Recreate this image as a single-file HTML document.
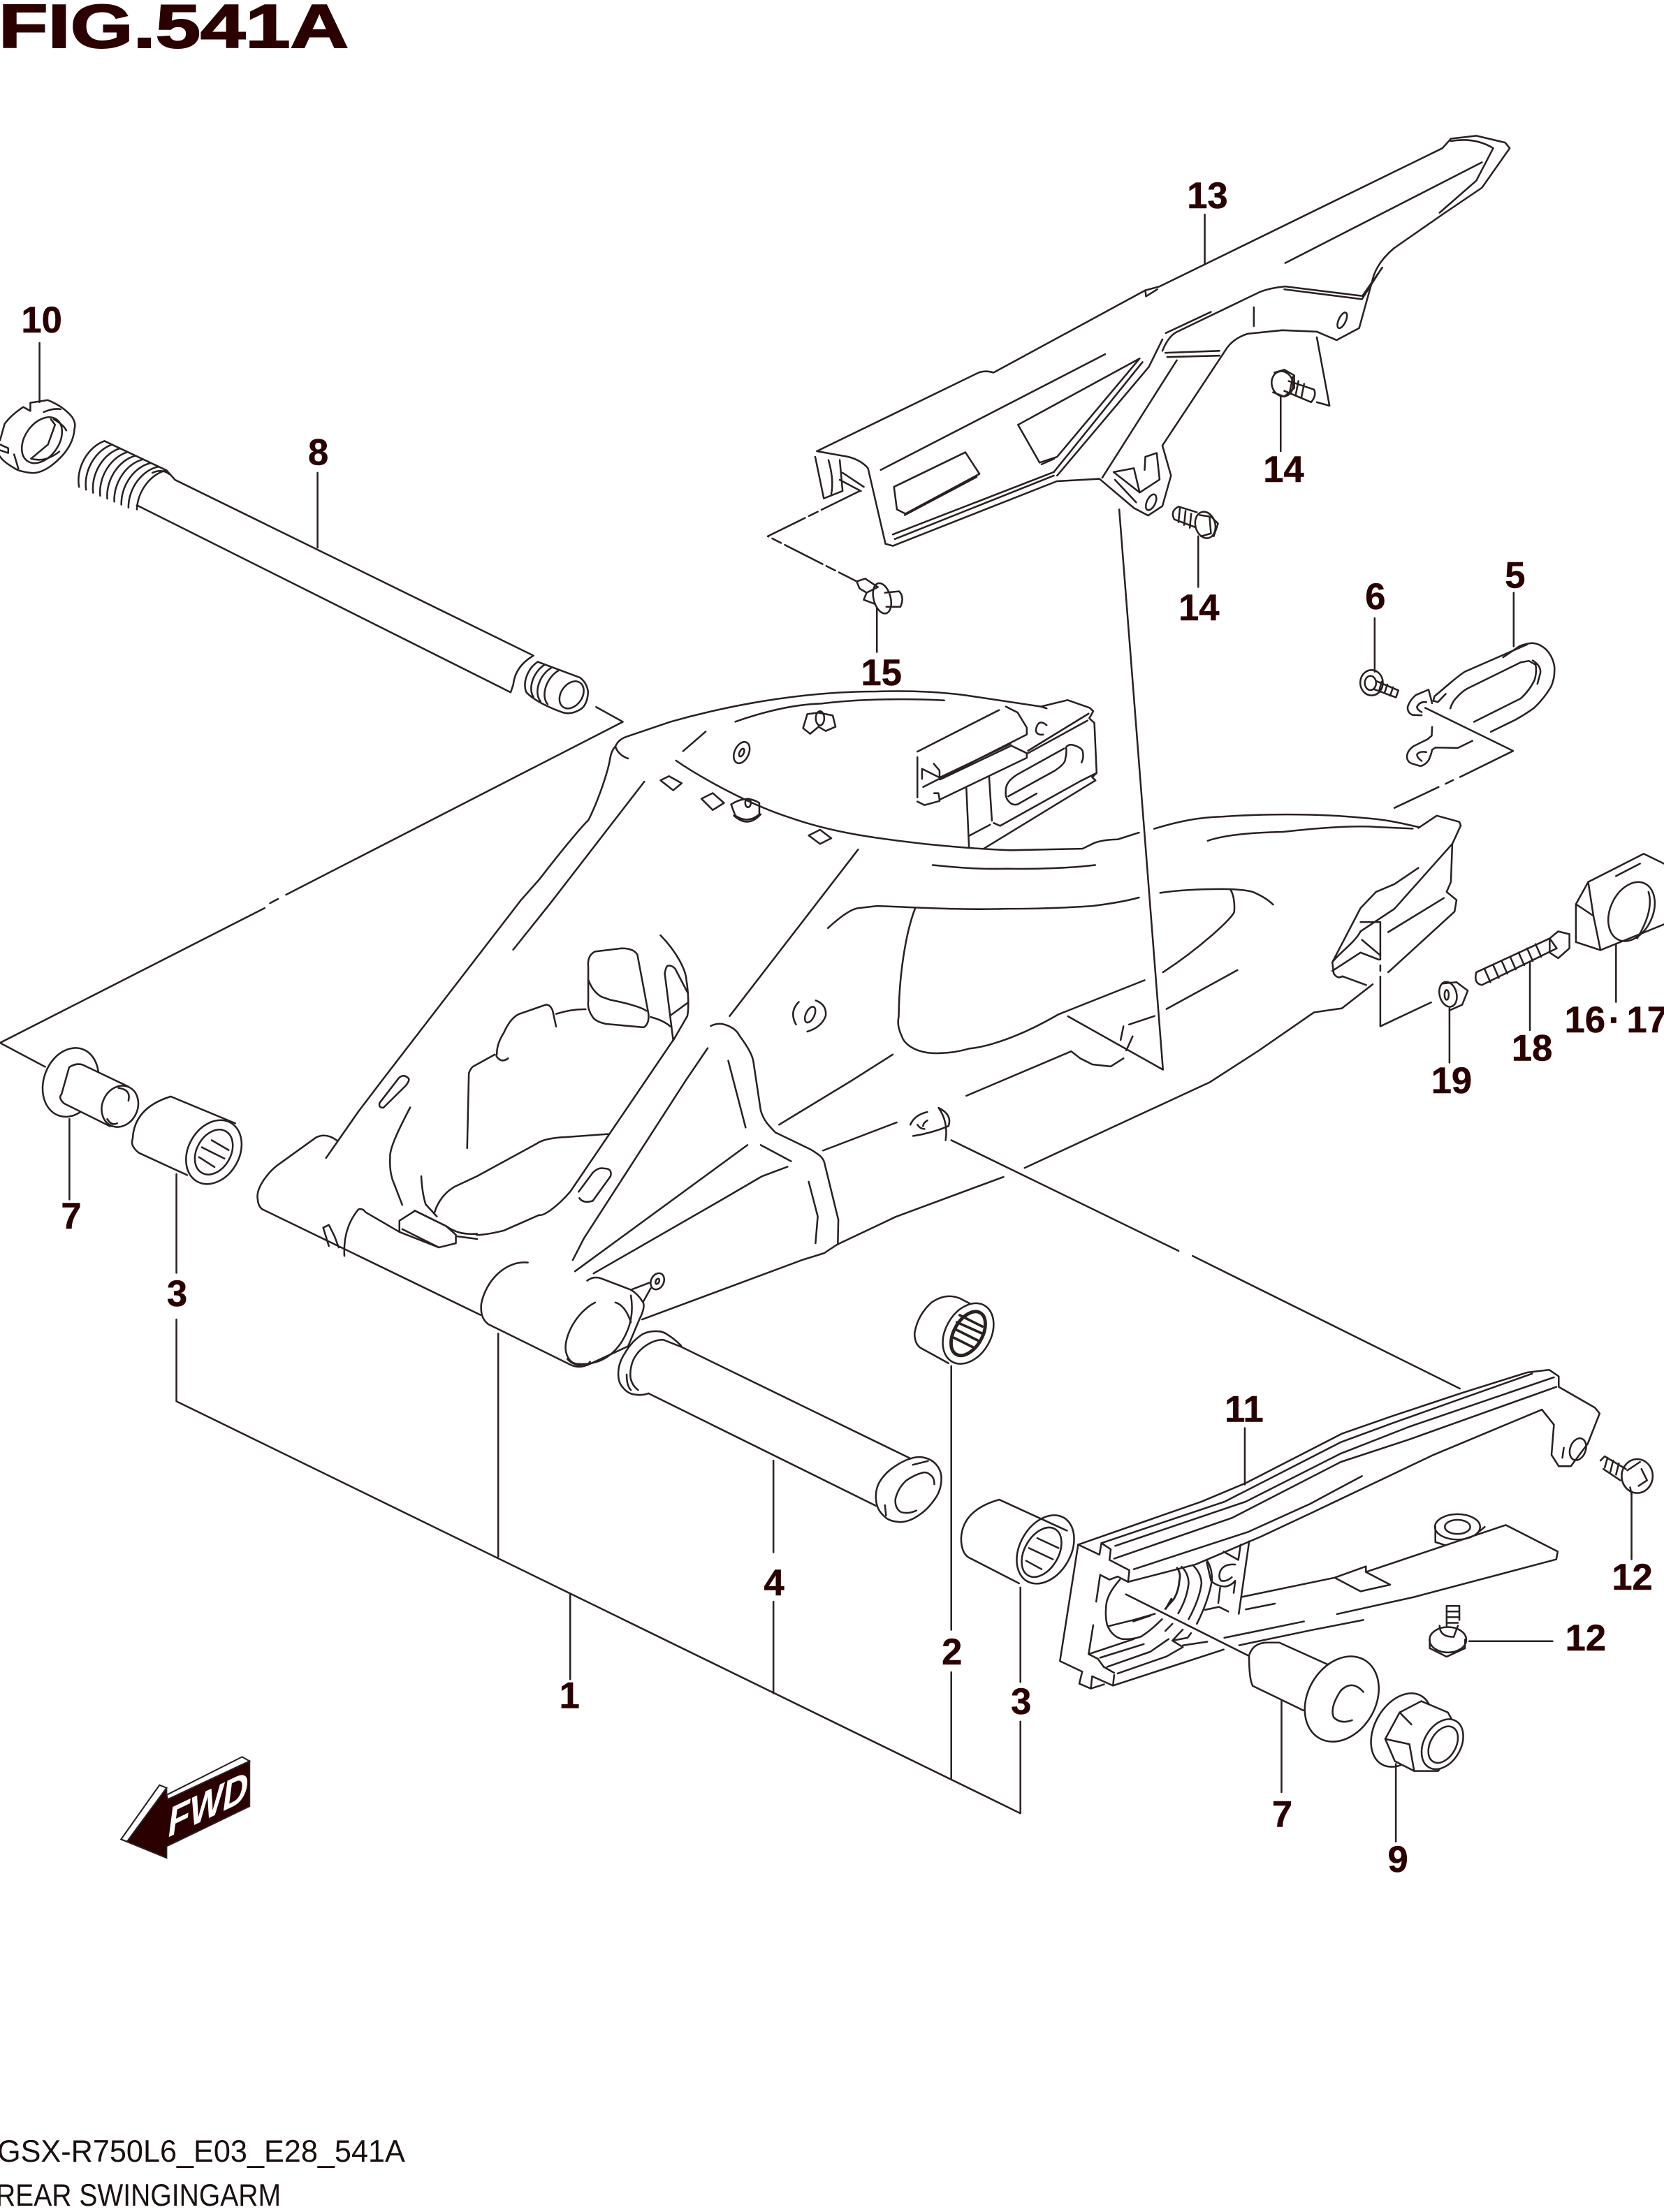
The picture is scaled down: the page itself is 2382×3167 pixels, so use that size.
<!DOCTYPE html>
<html><head><meta charset="utf-8"><title>FIG.541A</title>
<style>html,body{margin:0;padding:0;background:#fff;width:2382px;height:3167px;overflow:hidden}svg{display:block}
.l{font:bold 26px "Liberation Sans",sans-serif;fill:#2b0000;stroke:#2b0000;stroke-width:.25;text-anchor:middle}</style></head><body>
<svg width="2382" height="3167" viewBox="0 0 1179 1567.5" xmlns="http://www.w3.org/2000/svg">
<text x="-1" y="33.7" textLength="248" lengthAdjust="spacingAndGlyphs" style="font:bold 43.5px 'Liberation Sans',sans-serif;fill:#2b0000;stroke:#2b0000;stroke-width:1">FIG.541A</text>
<g fill="none" stroke="#2a2020" stroke-width="1.25" stroke-linecap="round" stroke-linejoin="round">
<!-- swingarm left pivot -->
<path d="M238.5 808C233 804 228 804 224 806L199 824C190 830 181 842 182.6 850Q183 855 186 857L340.4 931.8"/>
<path d="M374 894.7C358 893 344 908 341 924Q340 934 346 938.4L404 967Q410 970 417 967L445 954L453 935Q458 925 455 922Q452 917 447 914L426 906Q421 904 416 907.5"/>
<path d="M421.6 923C408 930 399 948 401 958Q403 966 409 966.5Q430 968 441 950C447 940 449 930 447 918"/>
<path d="M436 923Q443 925 447 937"/>
<path d="M402 963Q405 967 413 968Q417 967 418 965"/>
<path d="M231 820.6L254 787.6L272.7 763L369 638L382.6 622.6C400 600 412 586 417 581C425 565 431 545 432 539Q433 532 436 529"/>
<path d="M436 529Q438 535 445 537.5M436 529Q438 524 444 522L475 511.5C505 503 560 490 621.5 490C650 489 670 491 683 492.5L737.5 500.7"/>
<path d="M521 511.4C545 503 565 499 582 498.6C610 495 645 495 669 496.3"/>
<path d="M500 518.4L484 532.3"/>
<path d="M456.5 553.9L390 640L363.6 673"/>
<!-- bracket -->
<path d="M737.5 500.7L741.6 502M737.5 500.7L756.4 496.1L772.1 501.6L774.6 504L771.8 509L775.4 512.3L777 547.8L773.8 550.7L776.2 553L697 601.4"/>
<path d="M650 532.6L707.8 503.2M712.7 500.7L721 504.9L727.5 515.6V520.5L654.1 557.7"/>
<path d="M665.7 551L716 527.1M666 552.4L716.5 528.4L727.5 533.7V537L665.7 566.7L664.9 562.1L661.9 562.1"/>
<path d="M650 536.5V565.1M650 568L655 570.5L665.7 567.6M653.3 551.9V544.8L665.7 551M661.6 541.2L665.7 546.1V551"/>
<path d="M728.4 532L771.3 505.7M728.4 533.7L770.5 510.6"/>
<path d="M741.6 513.9Q737 510 735 513.9Q733 518 735 519.7Q737 521 739.1 520.5"/>
<path d="M754 530.4L722.6 547.8Q713 553 712.7 559.3Q712 565 714.4 567.5Q717 571 721 570L734.5 562.3"/>
<path d="M714.4 564.3L747.4 546.1Q755 541 754.8 537.8Q756 533 755.3 529.6Q757 527 760.6 528Q767 530 767.2 532.9Q768 537 766.3 540.3"/>
<path d="M700.8 550.2L702.8 581.6M684.7 558.5L686.6 600.6M686.6 592.3L701.5 584.4M704.1 583.2L708.6 585.2L765.5 553.5L777 547.8"/>
<!-- arc lower -->
<path d="M479 539C495 550 530 570 560.4 579.6C590 590 620 594 655 598C675 600 700 602 716 602.5L767 601.4L775.4 597.3C782 595 790 594.8 792 594.8L807 590"/>
<path d="M817.8 587.3C835 582 850 579 866 578.7C890 577 930 576 966 579.6C985 581 995 584 1005 586"/>
<path d="M855.7 595.8C870 591 890 590 909 589.5C940 586 960 585 975 586L1001 587.2"/>
<path d="M660.8 613C680 615 695 616 713 615.6C735 616 760 615 776 613"/>
<path d="M1005 586.7L1018 578L1034 582.4L1035 585L1029 598L1028 625L1025 632L1032 637.8L1030.6 646L983.6 689"/>
<path d="M1029 598L988 644L964 660C960 668 948 676 944 681.9L945 690Q948 694 951 691.8L968 698M1005 615L988 626.5L975 632L964 643.5L944 681.9M983.6 660.5L1023 636.4M944 688L964 675L977 680M965 666L978 677"/>
<!-- body lower right -->
<path d="M972.6 697.5L950.8 714.5L931 717.4L892 744.4L857 767L726 827.6"/>
<path d="M711 834L634.6 862.3L593 882L584 888L568 893L455 935"/>
<!-- gusset -->
<path d="M503.6 727Q508 725 511.6 725.6C518 727 522 730 524 734C530 742 533 748 533.7 751.7L539 787C541 794 545 798 549.4 802.5L574.7 814.7C580 818 583 820 584 823.5L594 864.4L593.6 882"/>
<path d="M516 751.7L528.3 799M573 837.4L579.4 862L577.8 881M539 811.4L560.5 822.9M529.6 811.4L407.4 900.9M558 826.8L540 833.5L510 851L420.6 902.4"/>
<path d="M501.4 742.8L486.3 765L413.7 877.6L405.8 893"/>
<path d="M476.8 737.3L458 765L404 844.5C395 855 385 862 382 861L357 872C345 875 335 876 338 874.3C328 875 322 873 316 868.8L293.7 857.8"/>
<path d="M308 859C310 852 315 845 322 841L338 833.5L380.5 810.3C385 807 395 806 401 805.8L431 803.6"/>
<path d="M290.6 784.8C280 805 276 815 276.4 820C276 828 277 832 278 835.7L285 853.8M298.5 833.5Q299 845 301.6 853.4L309.5 862"/>
<path d="M331 813.6L332.2 760.5Q333 758 334.8 756L350.5 747.3"/>
<path d="M360 750Q356 753 353 750Q351 748 352 747.3C352 740 355 735 357 731.8C360 725 364 720 368 718.5L387 711.9Q390 712 391.6 716.3L394 727.4M394 718.5Q405 715 415 715.2"/>
<path d="M416.8 685Q416 677 421.6 674.3L440.5 672Q449 672 451.6 676.5L459.5 718.5Q460 726 456 728L429.5 725.6Q422 724 420 720.8Q416 715 416.8 709.7Z"/>
<path d="M416.8 694.2Q420 703 426.3 706.4L432.6 708.6C445 711 455 714 458 716.3M461 720.7Q470 723 475 727.4"/>
<path d="M468 662.8C480 675 486 688 486.3 694.2C488 705 488 715 487 720L477 737.3M471 689.8Q472 684 473.7 684.3Q476 684 478.4 686.5L487 703M471 689.8L477 737.3M475 719.6L487 710.8"/>
<path d="M271.6 785L287.4 769.4Q291 765 289 763.8Q286 761 282.7 763.8L269 781.5Q268 785 271.6 785Z"/>
<path d="M410.5 849Q413 853 420 851L432.6 833.5Q434 828 428 828Q424 827 420 831L410 844.5"/>
<path d="M608 602L517 720M632.5 747.3L603 766L552 797M635.3 795.4L583.2 815.3"/>
<path d="M684.7 776.5L759 745L765.4 750L774 754.3L787 755.7L796 750M796 727.3L794 737M802.5 734.4L798 744.4"/>
<path d="M756.7 720.2L824 758L793 361M800 726L818 720M826.5 715L876.7 687.5"/>
<path d="M824 689C850 672 874 650 874.5 646C875 640 874 634 872 630.7M811 694.6L750 718.8C710 742 687 743 687 743C670 748 656 746 656.4 745.8C645 744 640 738 639 734.4C636 728 636 724 636.8 720C637 690 642 660 648.5 643.5"/>
<path d="M586.6 657.7C595 650 603 644 608.4 643.5L621.5 642C650 643 680 645 713 644C740 644 760 643 774 642C790 640 800 638 807 636M822 632.7Q840 630 865.8 630Q880 630 887.6 632Q897 636 902 641"/>
<!-- washers on arm -->
<path d="M578 709Q586 712 585 720Q582 728 572 731M564 726Q559 717 566 710"/>
<ellipse cx="574" cy="719" rx="3" ry="6" transform="rotate(25 574 719)"/>
<ellipse cx="525.5" cy="533.3" rx="5" ry="8" transform="rotate(25 525.5 533.3)"/>
<ellipse cx="525.5" cy="533.3" rx="1.5" ry="3" transform="rotate(25 525.5 533.3)"/>
<path d="M569 516L572 506L580 505L590 507L592 515L585 518L580 515L574 520Z"/>
<ellipse cx="581" cy="509" rx="3" ry="5"/>
<path d="M468 553L474 550L483 555L477 560ZM497 566L505 562L513 569L505 574ZM573 592L581 588L589 594L581 598Z"/>
<path d="M518 570Q529 563 538 569L538 577Q530 584 521 578ZM520 578Q530 587 539 577"/>
<ellipse cx="530" cy="569" rx="2" ry="3"/>
<ellipse cx="465.8" cy="908" rx="4.5" ry="6" transform="rotate(25 465.8 908)"/>
<ellipse cx="465.8" cy="908" rx="1.2" ry="2" transform="rotate(25 465.8 908)"/>
<path d="M447 914L460 909M456 922L461 913"/>
<!-- pad left pivot -->
<path d="M244 890Q243 870 254 857Q257 856 259 859L283 873L283 865L294 858L316 868.8L323 875L323 881L311 884L285 871M283 873L311 884M323 876L338 878"/>
<path d="M229 870L233 868L237 876L240 884M229 870L233 883"/>
<!-- hole C -->
<path d="M645 797Q648 790 657 788M647 805Q660 803 672 798Q675 790 665 785Q672 795 670 808M650 797Q652 800 655 800M657 794Q654 796 654 798"/>
<path d="M674 808L835 886.4M845 890L1034.4 984"/>
<!-- dashed line upper -->
<path d="M422.4 501L441.3 511.5L202.7 634M197 637L191.3 640M187.5 643.5L0 739L32 756"/>
<!-- bottom bracket -->
<path d="M125 935V993L723 1285V1220M723 1192V1125M674 1260V1185M674 1155V968M548 1200V1135M548 1100V1035M404 1190V1130M353 1103V945M125 832V902"/>
<!-- leaders -->
<path d="M28 243V285M225 335V388M853.6 152V187M907.4 281V319.7M849 380V416M621.3 431V462M974 438V476M1072.5 420V458M1145 669V710M1084 682V730M1027 714.6V753M49.2 793V850M1156 1058V1105M1041 1163H1100M882 1012V1052M908 1205V1270M989 1250V1305"/>
<!-- nut 10 -->
<path d="M21.5 285.4L33.8 283.5Q45 288 51 295.4Q54 300 52.8 303.6Q52 318 36.3 330Q28 336 21.5 335Q13 334 10 331.6Q2 327 0 323.4M0 319L5.8 321L5.8 317.6L0 315M0 312Q2 305 3.3 300.3Q8 294 16.5 288.4L21.5 291.2L21.5 285.4M31 292Q38 289 43 290"/>
<ellipse cx="29.7" cy="311.9" rx="12" ry="18" transform="rotate(35 29.7 311.9)"/>
<path d="M38 297Q45 301 47 305M22 325Q32 328 42 320M10 322L13 332"/>
<path d="M36 297L39 301L34 315L22 325"/>
<!-- shaft 8 -->
<path d="M74 312.5A19 25 25 0 0 56 345M79.5 315A19 25 25 0 0 61 347M85 317.7A19 25 25 0 0 66 349.2M90.5 320.3A19 25 25 0 0 71 351.3M96 322.9A19 25 25 0 0 76 353.4M101.5 325.5A19 25 25 0 0 81 355.5M107 328.1A19 25 25 0 0 86 357.6M112.5 330.7A19 25 25 0 0 91 359.7M118 333.3A19 25 25 0 0 97 361"/>
<path d="M74 312.5L118 333.3L124 340L378 464.6Q365 472 363.6 485.4L361.8 490.6L97 358M381 469L411 480.2Q416 484 416.7 490.6Q416 500 411 502.8Q404 507 397.7 504.5Q380 498 373 490.6"/>
<path d="M108 335Q115 332 120 336"/>
<path d="M381 469A10 15 30 0 0 373 490.6M386 471A10 15 30 0 0 378 494M391 473A10 15 30 0 0 383 497M396 475A10 15 30 0 0 388 499"/>
<ellipse cx="405" cy="492.4" rx="7.5" ry="10.5" transform="rotate(35 405 492.4)"/>
<!-- part 7 left -->
<g fill="#fff">
<ellipse cx="50" cy="767" rx="19" ry="25" transform="rotate(20 50 767)"/>
<path d="M45.5 782Q41 778 43.6 775.4L49 756.3Q54 753 58.7 754.6L91 770L85 798L77.7 798Z"/>
<ellipse cx="85" cy="784" rx="12.5" ry="15" transform="rotate(25 85 784)"/>
</g>
<path d="M76 793Q79 798 83 796M84 771Q93 772 91 780"/>
<!-- part 3 upper -->
<path d="M94 807Q95 785 121 777L166.7 796M98.5 817Q92 812 94 807M98.5 817L132.6 832.7"/>
<ellipse cx="151.5" cy="816.4" rx="18" ry="24" transform="rotate(30 151.5 816.4)"/>
<ellipse cx="151.5" cy="816.4" rx="12" ry="17" transform="rotate(30 151.5 816.4)"/>
<path d="M143 813L159 821M141 820L152 827M150 808L162 815"/>
<!-- part 4 -->
<path d="M482.6 953.6Q478 949 473.6 946.2Q470 943.4 466.1 943.4Q460 943 455.4 945.4Q448 950 443 958.5Q438 966 438.1 973.4Q438 980 441.4 983.3Q445 988 450.5 988.3Q455 989 459.5 987.4"/>
<path d="M482.6 954.4L470.2 949.5Q465 949 458.7 952.8Q452 957 448.8 963.5Q446 970 446.8 976.7Q448 982 452.1 985M482.6 954.4L645.2 1033.6M459.5 987.4L620.7 1067.1M444 974Q444 982 447 985"/>
<path d="M645.2 1033.6Q650 1032 654.2 1032.8Q660 1034 663.3 1037.8Q667 1042 667 1047.7Q667 1055 663.3 1060.9Q658 1069 651.8 1073.2Q644 1079 636.9 1078.5Q630 1078 627 1074.9Q621 1070 620.7 1062.5Q620 1055 623.7 1049.3Q628 1043 633.6 1039.4Q640 1035 645.2 1033.6"/>
<path d="M662 1051.8Q662 1047 659.2 1045.2Q657 1043 654.2 1043.5Q648 1045 641.9 1049.3Q636 1055 634.4 1062.5Q634 1069 638.5 1071.6Q644 1073 649.3 1070.4M646.8 1038L657.5 1035.3M627 1066.6L627.8 1074"/>
<!-- part 2 -->
<path d="M703 932L680 920Q670 916 660 923Q650 932 648 945Q648 952 652 955L672 966"/>
<ellipse cx="686" cy="945" rx="16" ry="23" transform="rotate(30 686 945)" fill="#fff"/>
<ellipse cx="686" cy="945" rx="10" ry="17" transform="rotate(30 686 945)" stroke-width="2.4"/>
<path d="M677 942L693 950M678 937L696 945M680 932L696 940M676 948L690 955" stroke-width="1.8"/>
<!-- part 3 lower -->
<path d="M681 1090Q682 1070 708 1062.7L756 1084.7M681 1090Q681 1100 686 1103.5L722 1122"/>
<ellipse cx="740.7" cy="1098" rx="18" ry="26" transform="rotate(30 740.7 1098)"/>
<ellipse cx="738" cy="1100" rx="12" ry="19" transform="rotate(30 738 1100)"/>
<path d="M729 1097L746 1105M727 1106L738 1112M735 1090L750 1097"/>
<!-- chain slider 11 -->
<path d="M763.9 1094.6L851.3 1064.1L882.5 1051L950.7 1016L985 1004L1036 987L1082 972.6L1097.6 970.7L1104.4 975.3V982.8L1130 997.5L1133.4 1001.6L1125 1023L1113 1039L1104.4 1039L1099.3 1031L1101 1009.6L1092.5 998.9L1015.6 1031L930.5 1071.5L893.4 1088.9L847.2 1108.6L799.3 1121"/>
<path d="M780.4 1093.5L867.8 1064.1L950 1022L988 1008L1085.6 973.4M790.2 1095.5L882.7 1064.1L950 1030L998.6 1011L1101 976M789.4 1104.5L872.8 1075.7L950 1036L998.6 1020L1102.7 982.8M803.4 1112L884.3 1085.6L928 1065.8L965 1046"/>
<path d="M763.9 1094.6L779 1101.7L780.4 1093.5L787 1097.9L786.1 1105.4L800.2 1112.8L799.3 1121L791.9 1117.2L786.1 1119.4L779.5 1116L776.7 1135M774.6 1151.6L771.3 1172.2"/>
<ellipse cx="1118" cy="1027" rx="5.5" ry="8" transform="rotate(20 1118 1027)"/>
<path d="M1108 1026L1107 1033"/>
<path d="M763.9 1094.6L751 1177.1L766.8 1184.6L764.7 1193.1L772.9 1196.6L773.8 1187.9L788.6 1194.5L867 1168.9M772.9 1196.6L782.3 1193.6M788.6 1194.5L789.4 1187"/>
<path d="M771.3 1172.2L803.4 1161.5M779.5 1174.7L810.4 1165.1M771.3 1172.2L777.9 1175.5L782 1181.2L789.4 1185.4M784.5 1181.2L815 1170.5L828 1161.5M791.9 1185.9L826.6 1173.8L838.1 1167.2L830.7 1162.6L841.4 1160.6L843.9 1157.3M838.1 1166L855.4 1163.4"/>
<path d="M793.5 1119.4Q784 1130 783.7 1138.4Q783 1146 784.5 1151.6Q788 1160 795.2 1161.5Q802 1162 808.4 1159.8Q816 1155 823.3 1147.4M785.3 1152.4L803 1148L818.3 1143.6M803 1149L815 1145"/>
<path d="M834 1111.1Q837 1115 835.6 1120.2Q835 1128 831.5 1133.4L825.7 1140M830 1133L826 1140" stroke-width="1.4"/>
<path d="M837.3 1110.3Q842 1115 842.2 1121.9Q841 1133 834.8 1143.3M845.5 1109.5Q851 1115 851.3 1121.9Q850 1133 842.2 1147.4M855.4 1106.2Q859 1112 858.7 1120.2Q856 1135 848 1150.7M838 1154.8L830.7 1162.6M830.7 1150.7L825.7 1155.7"/>
<path d="M885.1 1092.2L877.7 1143.6M879 1094.6L877.4 1105.4L867 1099.6M875.2 1108.7Q867 1108 864.5 1113.6Q863 1118 865.3 1120.2Q869 1121 872.8 1117.7M858 1120.2Q862 1124 867.8 1124.3Q872 1124 875.2 1120.2L874.1 1128.8M864.5 1125.1L863.2 1135.9M853.8 1140.8L863.7 1138.7L870.3 1142M855 1107L858 1120"/>
<path d="M879.7 1131.7L945.6 1118L964 1127.7L985 1123L967.8 1114L1066.9 1080.7L1103.7 1099.5L1102.7 1105L1002 1131.7L947.3 1143.8M967.8 1114V1110M945.6 1118L967.8 1110M882.7 1140.5L903.3 1136.4M867.5 1160.6L923.9 1149M878 1165.9L930 1155L966 1148"/>
<ellipse cx="1032.7" cy="1082" rx="16" ry="9"/>
<ellipse cx="1032.7" cy="1082" rx="9" ry="5"/>
<path d="M1017 1082V1092.8L1024 1095M1046 1087L1052 1082"/>
<path d="M797.7 1129.8L884.6 1173.3"/>
<!-- part 7 right -->
<path d="M885 1173Q888 1164 897.8 1164L906.4 1164L944 1181M885 1173Q885 1190 887.6 1194.7L923.4 1212"/>
<ellipse cx="950.7" cy="1204" rx="24" ry="32" transform="rotate(30 950.7 1204)" fill="#fff"/>
<path d="M966 1199Q958 1190 950 1198Q942 1210 945 1217Q950 1222 958 1219"/>
<!-- nut 9 -->
<ellipse cx="993" cy="1226" rx="19" ry="28" transform="rotate(30 993 1226)"/>
<path d="M981.5 1232.3L991.7 1213.5L1007 1205.5L1025.9 1213.5L1036 1232.3L1019 1255H1002L988.3 1248Z" fill="#fff"/>
<path d="M981.5 1232.3L998.6 1236L1002 1255M991.7 1213.5L1000 1222"/>
<ellipse cx="1022" cy="1236" rx="13" ry="19" transform="rotate(30 1022 1236)" fill="#fff"/>
<ellipse cx="1022.5" cy="1236.3" rx="9" ry="14" transform="rotate(30 1022.5 1236.3)"/>
<!-- guard 13 -->
<path d="M578.8 319.7L692 264.7Q697 262 704 264L811.5 205.7L821.6 203L1022 105L1028 98.3L1046 96.2L1066.4 101L1069.7 105L1050 133L1022 152L987.5 176Q977 185 973.4 195L963 232.5L947 241L933 235L908.6 234L884 236.5Q873 240 868 248.6L823.6 315.7L829.7 337L823.6 358.6L813.5 365.3L803.4 360L779 339.3L748.8 341L632.6 386.8L627.4 385.4L615 331.8Q610 326 601 323.7L578.8 319.7"/>
<path d="M811.5 205.7L812 210L820 205M1028 100Q1045 97 1058 105L1046 128L1020 150.7M632.6 378.7L746.7 334.5M634 382L746.7 337"/>
<path d="M577.6 323.7L583.7 353.2L597 347.9L595 326M587 326Q591 340 589 350M597 335L612 345M595 340L610 348"/>
<path d="M624 333L783 251M910.6 186.4L1050 115"/>
<path d="M633.4 345L684 320.5L694 335.8L641.5 364L635.5 361ZM641 365L692 338"/>
<path d="M721.3 301L807.5 254L749 323.7L736.6 327.8ZM738 329L747 325"/>
<path d="M746.7 334.5L809.5 256.6M749 337L814 260L823.6 240.5"/>
<path d="M823.6 248.6Q828 238 833.8 235.2L892.4 207Q900 204 910.6 203L965.3 209.7L979.4 189.6M910 205L965 212L979 190"/>
<path d="M825.7 250L864 248.6M827 253L864 252M781 338.5L833.8 255.3M826 236L858 221M888.4 217.7V231"/>
<ellipse cx="951" cy="227" rx="2.5" ry="6" transform="rotate(25 951 227)"/>
<ellipse cx="815.6" cy="355.9" rx="3" ry="6" transform="rotate(25 815.6 355.9)"/>
<path d="M789 334.5L803.4 331.8L807.5 349L821.6 339.8L819.6 321L811.5 323.7L811 333M789 334.5L807.5 349M790 340L805 356"/>
<path d="M933 239L942 287.5L933 285"/>
<path d="M609 348L544 380L607 412" stroke-dasharray="30 3 7 3"/>
<!-- bolt 14 upper -->
<ellipse cx="908.6" cy="272" rx="7.5" ry="9" transform="rotate(-15 908.6 272)"/>
<path d="M903 264L910 262L917 266L917 275L910 281L902 278M913 270L931 276Q933 280 929 285L910 277M916 267L914 277M920 270L918 280M924 272L922 282"/>
<!-- bolt 14 lower -->
<path d="M848 363L835 359Q829 362 832 368L848 374M836 360L835 370M840 362L839 372M844 364L843 374"/>
<ellipse cx="854" cy="372" rx="7" ry="9.5" transform="rotate(-15 854 372)" fill="#fff"/>
<path d="M850 365L857 366L858 378L851 380M858 366L863 371L860 380"/>
<!-- clip 15 -->
<path d="M607 412L613 410L622 416L614 420L609 417ZM614 420L612 425L620 428"/>
<ellipse cx="625" cy="424" rx="6" ry="11" transform="rotate(-15 625 424)"/>
<path d="M627 420L637 419Q641 423 638 430L628 430"/>
<!-- bolt 6 -->
<ellipse cx="971.8" cy="483.8" rx="8" ry="9"/>
<ellipse cx="971" cy="484" rx="4" ry="5"/>
<path d="M975.1 482.6L990.8 489.2L989.1 494.2L973.5 488.4M979 483L977 490M983 485L981 491M987 487L985 493"/>
<!-- part 5 -->
<path d="M1065 465.8L1076.6 457.9Q1081 456 1085.6 455.7Q1091 456 1095.6 460.4Q1100 465 1101.3 471.9Q1102 480 1098.9 486.7Q1094 495 1087 501.6Q1081 506 1074 509.9L1056.3 518.6"/>
<path d="M1082 456.7L1037.8 476Q1032 480 1026.2 485.1L1016.4 493.4L1015.5 496.6L1018.8 497.5L1024.3 491.7"/>
<path d="M1027.6 502Q1029 497 1032.9 493.4Q1036 490 1039.5 488L1077.4 469.4L1083.2 468.3L1088 471Q1089 476 1087.3 481.8Q1084 489 1077.4 495L1044.4 511.5M1086 468Q1092 472 1091.4 476.9L1089.3 484.6"/>
<path d="M1012.2 488.7L1003.2 492.5Q999 496 997.4 500.8Q997 505 1000.7 506.6L1007.3 506.9M1014.7 498.3L1012.2 488.7M1010.6 497.5Q1006 497 1004 500.8Q1004 503 1007.3 504.6"/>
<path d="M1009.8 501.6L1072.1 532.1L1034.5 550.6M1029.6 552.8L1024.3 555.4M1019.3 557.7L988 572.5"/>
<path d="M1014.7 515.1L1014.4 521.4L1011.4 523.9L1001.5 528.8Q997 532 996.9 536.2Q997 540 1000.7 541.2L1006.5 542.9Q1010 542 1012.2 538.7Q1014 535 1014.7 531.3L1017.2 529.7L1032.9 530L1043.2 525M1010.6 533Q1006 532 1004 534.6Q1004 537 1007.3 539.2"/>
<!-- part 16-17 -->
<path d="M1125.3 625L1164.6 605L1179 612M1125.3 625L1116.6 640.7V667.6L1134 673.3L1179 655M1116.6 640.7L1129 649L1134 673.3M1125.3 625L1129 649M1145 620.8L1162 612"/>
<ellipse cx="1156" cy="646" rx="15" ry="22" transform="rotate(25 1156 646)"/>
<path d="M1168 632Q1172 645 1160 665"/>
<!-- bolt 18 -->
<path d="M1046 689L1098 665L1103 672L1050 698Q1044 697 1046 689ZM1052 687L1056 696M1058 684L1062 693M1064 681L1068 690M1070 678L1074 687M1076 675L1080 684M1082 672L1086 681M1088 669L1092 678"/>
<path d="M1098 665L1104 660L1112 662L1112 672L1104 679L1098 675Z"/>
<!-- nut 19 + corner -->
<ellipse cx="1026" cy="704.6" rx="6" ry="9" transform="rotate(-15 1026 704.6)"/>
<path d="M1022 697L1032 696L1040 702L1036 712L1027 716"/>
<ellipse cx="1025" cy="705" rx="1.5" ry="3.5"/>
<path d="M964 653.4L978 653.4V680M978 684V688M978 692V727.3L1014 710.3"/>
<!-- bolts 12 -->
<path d="M1134 1035L1137 1032L1152 1041M1136 1041L1148 1049M1139 1033L1137 1040M1143 1035L1141 1043M1147 1037L1145 1045"/>
<ellipse cx="1160" cy="1046" rx="11" ry="12"/>
<path d="M1153 1042L1162 1036M1155 1054L1156 1059M1163 1041L1167 1049L1161 1053"/>
<path d="M1025 1138H1034V1148M1025 1138V1152M1026 1142H1033M1026 1146H1033M1026 1150H1033"/>
<ellipse cx="1025.9" cy="1162" rx="13" ry="9"/>
<path d="M1013 1162V1168L1025 1174L1038 1168V1162M1020 1152Q1020 1160 1030 1160L1033 1152"/>
</g>
<!-- FWD -->
<polygon points="85.8,1303.4 118,1316.6 118,1308.4 176.8,1280 176.8,1248 118,1272 118,1267 113,1265" fill="#2b0000" stroke="#2a2020" stroke-width="1"/>
<polygon points="113,1265 118,1267 90,1305 85.8,1303.4" fill="#fff" stroke="#2a2020" stroke-width="1"/>
<polygon points="118,1272 171.5,1245 176.8,1248 119,1275" fill="#fff" stroke="#2a2020" stroke-width="1"/>
<text transform="matrix(.9 -.43 -.13 1 118 1302.6)" textLength="63" lengthAdjust="spacingAndGlyphs" style="font:bold 31px 'Liberation Sans',sans-serif;fill:#fff">FWD</text>
<!-- labels -->
<text class="l" x="29.5" y="235.5">10</text><text class="l" x="225.5" y="329.5">8</text><text class="l" x="855.5" y="147.5">13</text><text class="l" x="909.5" y="341.5">14</text><text class="l" x="849.5" y="439.5">14</text><text class="l" x="624.5" y="485.5">15</text><text class="l" x="974.5" y="431.5">6</text><text class="l" x="1073.5" y="416.5">5</text><text class="l" x="1123" y="731.5">16</text><text class="l" x="1144" y="731.5">·</text><text class="l" x="1167" y="731.5">17</text><text class="l" x="1085.5" y="751.5">18</text><text class="l" x="1028.5" y="774.5">19</text><text class="l" x="50.5" y="870.5">7</text><text class="l" x="125.5" y="925.5">3</text><text class="l" x="881.5" y="1007.5">11</text><text class="l" x="1156.5" y="1126.5">12</text><text class="l" x="1123.5" y="1169.5">12</text><text class="l" x="548.5" y="1130.5">4</text><text class="l" x="674.5" y="1179.5">2</text><text class="l" x="723.5" y="1214.5">3</text><text class="l" x="403.5" y="1210.5">1</text><text class="l" x="908.5" y="1294.5">7</text><text class="l" x="990.5" y="1326.5">9</text>
<text x="-2" y="1532" textLength="289" lengthAdjust="spacingAndGlyphs" style="font:22px 'Liberation Sans',sans-serif;fill:#1a1010">GSX-R750L6_E03_E28_541A</text>
<text x="-3" y="1563" textLength="202" lengthAdjust="spacingAndGlyphs" style="font:22px 'Liberation Sans',sans-serif;fill:#1a1010">REAR SWINGINGARM</text>
</svg></body></html>
